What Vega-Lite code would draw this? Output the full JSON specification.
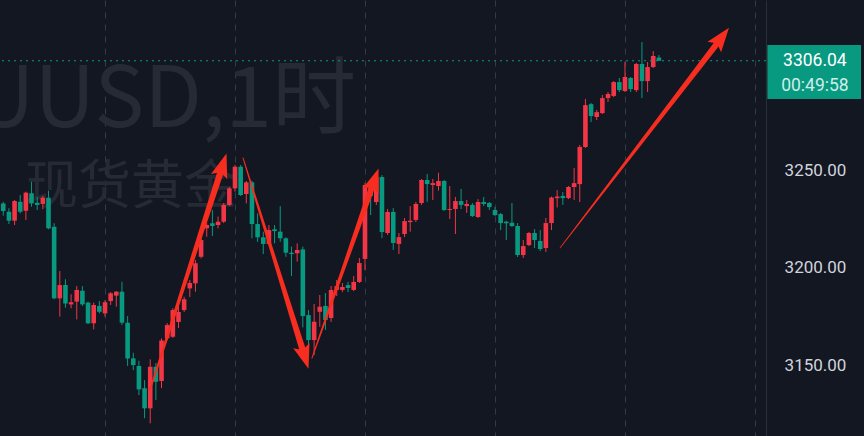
{
  "$schema": "https://vega.github.io/schema/vega-lite/v6.json",
  "width": 766,
  "height": 436,
  "autosize": {"type": "none"},
  "padding": {"left": 0, "top": 0, "right": 98, "bottom": 0},
  "background": "#131722",
  "config": {"view": {"stroke": null}, "scale": {"continuousPadding": 0}},
  "datasets": {
    "candles": [
      {"t":-18,"o":3232.9,"h":3233.7,"l":3226.6,"c":3229.0},
      {"t":-17,"o":3228.6,"h":3230.4,"l":3222.3,"c":3224.0},
      {"t":-16,"o":3224.0,"h":3234.6,"l":3221.8,"c":3234.1},
      {"t":-15,"o":3233.7,"h":3237.2,"l":3227.8,"c":3228.6},
      {"t":-14,"o":3229.1,"h":3238.9,"l":3224.4,"c":3238.4},
      {"t":-13,"o":3238.1,"h":3244.0,"l":3231.2,"c":3232.9},
      {"t":-12,"o":3233.2,"h":3236.3,"l":3229.5,"c":3232.1},
      {"t":-11,"o":3232.6,"h":3236.7,"l":3229.9,"c":3235.8},
      {"t":-10,"o":3235.8,"h":3239.4,"l":3219.6,"c":3220.1},
      {"t":-9,"o":3220.9,"h":3222.7,"l":3183.7,"c":3184.2},
      {"t":-8,"o":3184.2,"h":3198.2,"l":3174.8,"c":3191.0},
      {"t":-7,"o":3191.0,"h":3194.0,"l":3179.4,"c":3181.6},
      {"t":-6,"o":3181.1,"h":3186.3,"l":3179.1,"c":3182.2},
      {"t":-5,"o":3182.5,"h":3190.5,"l":3173.4,"c":3188.5},
      {"t":-4,"o":3188.1,"h":3190.5,"l":3180.3,"c":3181.1},
      {"t":-3,"o":3182.0,"h":3182.5,"l":3171.0,"c":3171.4},
      {"t":-2,"o":3171.4,"h":3182.0,"l":3168.3,"c":3180.8},
      {"t":-1,"o":3180.3,"h":3182.8,"l":3176.5,"c":3177.3},
      {"t":0,"o":3176.5,"h":3183.3,"l":3174.8,"c":3182.2},
      {"t":1,"o":3182.8,"h":3187.4,"l":3180.8,"c":3186.8},
      {"t":2,"o":3185.6,"h":3187.9,"l":3179.9,"c":3187.6},
      {"t":3,"o":3187.6,"h":3192.7,"l":3170.5,"c":3171.7},
      {"t":4,"o":3171.7,"h":3175.1,"l":3149.5,"c":3153.4},
      {"t":5,"o":3153.4,"h":3156.3,"l":3147.4,"c":3150.0},
      {"t":6,"o":3149.5,"h":3152.2,"l":3134.6,"c":3137.5},
      {"t":7,"o":3138.1,"h":3142.3,"l":3122.7,"c":3127.8},
      {"t":8,"o":3127.8,"h":3152.9,"l":3120.1,"c":3149.1},
      {"t":9,"o":3149.1,"h":3151.0,"l":3132.1,"c":3141.4},
      {"t":10,"o":3141.8,"h":3163.7,"l":3138.2,"c":3162.6},
      {"t":11,"o":3163.7,"h":3171.5,"l":3162.8,"c":3170.5},
      {"t":12,"o":3164.5,"h":3179.2,"l":3163.9,"c":3178.2},
      {"t":13,"o":3172.1,"h":3180.8,"l":3169.0,"c":3177.2},
      {"t":14,"o":3178.2,"h":3185.0,"l":3177.2,"c":3183.7},
      {"t":15,"o":3189.3,"h":3193.6,"l":3184.9,"c":3192.1},
      {"t":16,"o":3191.9,"h":3203.8,"l":3187.6,"c":3202.2},
      {"t":17,"o":3205.5,"h":3215.8,"l":3204.7,"c":3214.1},
      {"t":18,"o":3220.1,"h":3222.7,"l":3215.8,"c":3221.8},
      {"t":19,"o":3222.7,"h":3229.5,"l":3216.2,"c":3221.3},
      {"t":20,"o":3221.8,"h":3226.1,"l":3220.1,"c":3223.5},
      {"t":21,"o":3223.5,"h":3233.1,"l":3222.8,"c":3232.1},
      {"t":22,"o":3232.1,"h":3241.3,"l":3231.5,"c":3240.6},
      {"t":23,"o":3240.6,"h":3252.6,"l":3238.9,"c":3251.7},
      {"t":24,"o":3251.7,"h":3252.6,"l":3236.7,"c":3237.2},
      {"t":25,"o":3237.7,"h":3244.4,"l":3232.9,"c":3243.7},
      {"t":26,"o":3243.7,"h":3244.5,"l":3215.0,"c":3222.3},
      {"t":27,"o":3222.3,"h":3227.8,"l":3213.2,"c":3215.5},
      {"t":28,"o":3215.5,"h":3218.4,"l":3206.9,"c":3212.1},
      {"t":29,"o":3212.1,"h":3221.8,"l":3211.5,"c":3219.2},
      {"t":30,"o":3219.6,"h":3221.8,"l":3212.4,"c":3218.7},
      {"t":31,"o":3218.4,"h":3231.5,"l":3213.2,"c":3215.0},
      {"t":32,"o":3215.0,"h":3215.5,"l":3205.5,"c":3207.6},
      {"t":33,"o":3207.6,"h":3210.7,"l":3195.6,"c":3206.9},
      {"t":34,"o":3207.3,"h":3212.4,"l":3203.0,"c":3209.0},
      {"t":35,"o":3209.3,"h":3210.7,"l":3169.3,"c":3175.1},
      {"t":36,"o":3175.6,"h":3178.2,"l":3157.7,"c":3162.8},
      {"t":37,"o":3162.8,"h":3181.3,"l":3155.1,"c":3172.2},
      {"t":38,"o":3177.3,"h":3185.9,"l":3169.6,"c":3179.9},
      {"t":39,"o":3180.3,"h":3186.9,"l":3168.0,"c":3173.1},
      {"t":40,"o":3174.1,"h":3190.5,"l":3172.1,"c":3188.5},
      {"t":41,"o":3188.5,"h":3193.6,"l":3185.4,"c":3190.5},
      {"t":42,"o":3188.5,"h":3192.1,"l":3187.4,"c":3190.0},
      {"t":43,"o":3191.0,"h":3192.6,"l":3187.4,"c":3189.5},
      {"t":44,"o":3188.5,"h":3195.6,"l":3187.9,"c":3192.6},
      {"t":45,"o":3192.6,"h":3204.9,"l":3192.1,"c":3202.3},
      {"t":46,"o":3204.4,"h":3243.3,"l":3198.7,"c":3242.3},
      {"t":47,"o":3242.3,"h":3244.9,"l":3226.9,"c":3236.7},
      {"t":48,"o":3233.6,"h":3247.4,"l":3232.1,"c":3246.4},
      {"t":49,"o":3246.4,"h":3247.4,"l":3215.1,"c":3218.2},
      {"t":50,"o":3217.7,"h":3230.0,"l":3216.7,"c":3228.5},
      {"t":51,"o":3228.5,"h":3230.5,"l":3209.0,"c":3212.6},
      {"t":52,"o":3212.1,"h":3217.7,"l":3206.9,"c":3215.6},
      {"t":53,"o":3217.2,"h":3225.4,"l":3215.6,"c":3223.8},
      {"t":54,"o":3223.3,"h":3231.5,"l":3218.4,"c":3224.0},
      {"t":55,"o":3224.4,"h":3233.6,"l":3223.3,"c":3232.6},
      {"t":56,"o":3233.1,"h":3245.4,"l":3232.1,"c":3244.9},
      {"t":57,"o":3244.9,"h":3248.0,"l":3233.7,"c":3242.8},
      {"t":58,"o":3242.3,"h":3245.4,"l":3234.6,"c":3243.3},
      {"t":59,"o":3241.8,"h":3248.6,"l":3239.4,"c":3244.4},
      {"t":60,"o":3244.4,"h":3244.9,"l":3229.0,"c":3229.5},
      {"t":61,"o":3229.5,"h":3241.8,"l":3224.9,"c":3230.0},
      {"t":62,"o":3230.0,"h":3236.2,"l":3217.2,"c":3234.1},
      {"t":63,"o":3234.1,"h":3240.3,"l":3230.0,"c":3232.1},
      {"t":64,"o":3231.5,"h":3234.6,"l":3228.0,"c":3232.6},
      {"t":65,"o":3232.1,"h":3233.1,"l":3225.9,"c":3226.4},
      {"t":66,"o":3225.9,"h":3235.1,"l":3225.4,"c":3233.6},
      {"t":67,"o":3233.6,"h":3236.2,"l":3231.5,"c":3232.6},
      {"t":68,"o":3233.1,"h":3233.6,"l":3229.5,"c":3231.0},
      {"t":69,"o":3229.5,"h":3231.0,"l":3226.4,"c":3226.9},
      {"t":70,"o":3227.4,"h":3228.0,"l":3219.2,"c":3222.8},
      {"t":71,"o":3223.5,"h":3224.0,"l":3214.1,"c":3222.7},
      {"t":72,"o":3223.0,"h":3233.1,"l":3220.8,"c":3221.3},
      {"t":73,"o":3221.3,"h":3222.8,"l":3205.4,"c":3206.4},
      {"t":74,"o":3206.4,"h":3214.1,"l":3204.9,"c":3211.0},
      {"t":75,"o":3211.5,"h":3218.2,"l":3211.0,"c":3217.7},
      {"t":76,"o":3217.7,"h":3219.7,"l":3210.0,"c":3214.1},
      {"t":77,"o":3213.6,"h":3219.2,"l":3208.5,"c":3209.5},
      {"t":78,"o":3210.0,"h":3225.4,"l":3208.0,"c":3222.8},
      {"t":79,"o":3222.8,"h":3236.4,"l":3219.2,"c":3235.9},
      {"t":80,"o":3235.6,"h":3239.7,"l":3230.8,"c":3236.4},
      {"t":81,"o":3236.7,"h":3238.7,"l":3232.1,"c":3235.6},
      {"t":82,"o":3235.6,"h":3241.8,"l":3235.1,"c":3241.3},
      {"t":83,"o":3241.3,"h":3251.0,"l":3234.6,"c":3243.3},
      {"t":84,"o":3242.8,"h":3262.8,"l":3233.6,"c":3261.8},
      {"t":85,"o":3261.8,"h":3286.4,"l":3261.3,"c":3283.3},
      {"t":86,"o":3283.8,"h":3284.4,"l":3274.6,"c":3277.7},
      {"t":87,"o":3277.2,"h":3280.8,"l":3275.6,"c":3279.7},
      {"t":88,"o":3279.2,"h":3288.5,"l":3278.7,"c":3286.9},
      {"t":89,"o":3286.9,"h":3290.0,"l":3284.9,"c":3289.0},
      {"t":90,"o":3288.0,"h":3295.6,"l":3287.4,"c":3295.1},
      {"t":91,"o":3295.1,"h":3297.2,"l":3290.0,"c":3291.0},
      {"t":92,"o":3290.5,"h":3305.4,"l":3290.0,"c":3297.7},
      {"t":93,"o":3297.2,"h":3297.7,"l":3290.0,"c":3291.5},
      {"t":94,"o":3291.0,"h":3304.9,"l":3290.0,"c":3304.4},
      {"t":95,"o":3304.4,"h":3315.6,"l":3286.9,"c":3295.6},
      {"t":96,"o":3295.6,"h":3305.4,"l":3290.0,"c":3302.8},
      {"t":97,"o":3302.8,"h":3311.0,"l":3302.3,"c":3308.5},
      {"t":98,"o":3307.7,"h":3309.0,"l":3305.9,"c":3306.04}
    ],
    "arrows": [
      {"arrow":1,"t":7.96,"p":3137.2,"w":0.15},
      {"arrow":1,"t":20.75,"p":3251.7,"w":1},
      {"arrow":2,"t":24.42,"p":3256.2,"w":0.05},
      {"arrow":2,"t":35.28,"p":3154.9,"w":1},
      {"arrow":3,"t":36.62,"p":3153.6,"w":0.05},
      {"arrow":3,"t":47.59,"p":3244.1,"w":0.95},
      {"arrow":4,"t":80.5,"p":3210.0,"w":0},
      {"arrow":4,"t":108.92,"p":3317.3,"w":0.95}
    ],
    "heads": [
      {"t":20.75,"p":3251.7,"a":17.8},
      {"t":35.28,"p":3154.9,"a":162.7},
      {"t":47.59,"p":3244.1,"a":19.3},
      {"t":108.92,"p":3317.3,"a":37.5}
    ],
    "wm1": [{"txt":"XAUUSD,1时","t":44.4,"p":3272.0}],
    "wm2": [{"txt":"现货黄金","t":-14.15,"p":3240.8}],
    "tag": [{"label":"3306.04","timer":"00:49:58","price":3306.04}]
  },
  "layer": [
    {
      "data": {"name": "wm1"},
      "mark": {"type":"text","font":"Noto Sans CJK SC","fontSize":84,"align":"right","baseline":"alphabetic","color":"#262a35"},
      "encoding": {
        "x": {"field":"t","type":"quantitative","scale":{"domain":[-18.58,116.95],"nice":false,"zero":false,"padding":0},
              "axis":{"values":[0,23,46,69,92,115],"grid":true,"gridColor":"#363a45","gridDash":[6,6],"gridWidth":1,"labels":false,"ticks":false,"domain":false,"title":null}},
        "y": {"field":"p","type":"quantitative","scale":{"domain":[3113.6,3337.2],"nice":false,"zero":false},
              "axis":{"orient":"right","values":[3150,3200,3250],"format":".2f","grid":false,"ticks":false,"tickSize":0,"labelPadding":49,"labelAlign":"center","labelBaseline":"middle","labelColor":"#d1d4dc","labelFont":"Roboto","labelFontSize":17,"domain":true,"domainColor":"#2a2e39","title":null}},
        "text": {"field":"txt"}
      }
    },
    {
      "data": {"name": "wm2"},
      "mark": {"type":"text","font":"Noto Sans CJK SC","fontSize":53,"align":"left","baseline":"middle","color":"#262a35"},
      "encoding": {
        "x": {"field":"t","type":"quantitative","scale":{"domain":[-18.58,116.95],"nice":false,"zero":false,"padding":0},
              "axis":{"values":[0,23,46,69,92,115],"grid":true,"gridColor":"#363a45","gridDash":[6,6],"gridWidth":1,"labels":false,"ticks":false,"domain":false,"title":null}},
        "y": {"field":"p","type":"quantitative","scale":{"domain":[3113.6,3337.2],"nice":false,"zero":false},
              "axis":{"orient":"right","values":[3150,3200,3250],"format":".2f","grid":false,"ticks":false,"tickSize":0,"labelPadding":49,"labelAlign":"center","labelBaseline":"middle","labelColor":"#d1d4dc","labelFont":"Roboto","labelFontSize":17,"domain":true,"domainColor":"#2a2e39","title":null}},
        "text": {"field":"txt"}
      }
    },
    {
      "data": {"name": "candles"},
      "mark": {"type":"rule","strokeWidth":1},
      "encoding": {
        "x": {"field":"t","type":"quantitative","scale":{"domain":[-18.58,116.95],"nice":false,"zero":false,"padding":0},
              "axis":{"values":[0,23,46,69,92,115],"grid":true,"gridColor":"#363a45","gridDash":[6,6],"gridWidth":1,"labels":false,"ticks":false,"domain":false,"title":null}},
        "y": {"field":"l","type":"quantitative","scale":{"domain":[3113.6,3337.2],"nice":false,"zero":false},
              "axis":{"orient":"right","values":[3150,3200,3250],"format":".2f","grid":false,"ticks":false,"tickSize":0,"labelPadding":49,"labelAlign":"center","labelBaseline":"middle","labelColor":"#d1d4dc","labelFont":"Roboto","labelFontSize":17,"domain":true,"domainColor":"#2a2e39","title":null}},
        "y2": {"field":"h"},
        "color": {"condition":{"test":"datum.c >= datum.o","value":"#f23645"},"value":"#089981"}
      }
    },
    {
      "data": {"name": "candles"},
      "mark": {"type":"bar","width":4.6},
      "encoding": {
        "x": {"field":"t","type":"quantitative","scale":{"domain":[-18.58,116.95],"nice":false,"zero":false,"padding":0},
              "axis":{"values":[0,23,46,69,92,115],"grid":true,"gridColor":"#363a45","gridDash":[6,6],"gridWidth":1,"labels":false,"ticks":false,"domain":false,"title":null}},
        "y": {"field":"o","type":"quantitative","scale":{"domain":[3113.6,3337.2],"nice":false,"zero":false},
              "axis":{"orient":"right","values":[3150,3200,3250],"format":".2f","grid":false,"ticks":false,"tickSize":0,"labelPadding":49,"labelAlign":"center","labelBaseline":"middle","labelColor":"#d1d4dc","labelFont":"Roboto","labelFontSize":17,"domain":true,"domainColor":"#2a2e39","title":null}},
        "y2": {"field":"c"},
        "color": {"condition":{"test":"datum.c >= datum.o","value":"#f23645"},"value":"#089981"}
      }
    },
    {
      "data": {"name": "tag"},
      "mark": {"type":"rule","color":"#089981","strokeDash":[2,4],"strokeWidth":1},
      "encoding": {
        "y": {"field":"price","type":"quantitative","scale":{"domain":[3113.6,3337.2],"nice":false,"zero":false},
              "axis":{"orient":"right","values":[3150,3200,3250],"format":".2f","grid":false,"ticks":false,"tickSize":0,"labelPadding":49,"labelAlign":"center","labelBaseline":"middle","labelColor":"#d1d4dc","labelFont":"Roboto","labelFontSize":17,"domain":true,"domainColor":"#2a2e39","title":null}}
      }
    },
    {
      "data": {"name": "arrows"},
      "mark": {"type":"trail","color":"#f72d1f"},
      "encoding": {
        "x": {"field":"t","type":"quantitative","scale":{"domain":[-18.58,116.95],"nice":false,"zero":false,"padding":0},
              "axis":{"values":[0,23,46,69,92,115],"grid":true,"gridColor":"#363a45","gridDash":[6,6],"gridWidth":1,"labels":false,"ticks":false,"domain":false,"title":null}},
        "y": {"field":"p","type":"quantitative","scale":{"domain":[3113.6,3337.2],"nice":false,"zero":false},
              "axis":{"orient":"right","values":[3150,3200,3250],"format":".2f","grid":false,"ticks":false,"tickSize":0,"labelPadding":49,"labelAlign":"center","labelBaseline":"middle","labelColor":"#d1d4dc","labelFont":"Roboto","labelFontSize":17,"domain":true,"domainColor":"#2a2e39","title":null}},
        "size": {"field":"w","type":"quantitative","scale":{"domain":[0,1],"range":[0.7,6.5]},"legend":null},
        "detail": {"field":"arrow"},
        "order": {"field":"w"}
      }
    },
    {
      "data": {"name": "heads"},
      "mark": {"type":"point","shape":"M0,-1L0.62,0.75L0,0.42L-0.62,0.75Z","size":760,"filled":true,"color":"#f72d1f","opacity":1,"strokeWidth":0},
      "encoding": {
        "x": {"field":"t","type":"quantitative","scale":{"domain":[-18.58,116.95],"nice":false,"zero":false,"padding":0},
              "axis":{"values":[0,23,46,69,92,115],"grid":true,"gridColor":"#363a45","gridDash":[6,6],"gridWidth":1,"labels":false,"ticks":false,"domain":false,"title":null}},
        "y": {"field":"p","type":"quantitative","scale":{"domain":[3113.6,3337.2],"nice":false,"zero":false},
              "axis":{"orient":"right","values":[3150,3200,3250],"format":".2f","grid":false,"ticks":false,"tickSize":0,"labelPadding":49,"labelAlign":"center","labelBaseline":"middle","labelColor":"#d1d4dc","labelFont":"Roboto","labelFontSize":17,"domain":true,"domainColor":"#2a2e39","title":null}},
        "angle": {"field":"a","type":"quantitative","scale":null}
      }
    },
    {
      "data": {"name": "tag"},
      "mark": {"type":"rect","color":"#089981"},
      "encoding": {
        "x": {"datum":117.2,"type":"quantitative","scale":{"domain":[-18.58,116.95],"nice":false,"zero":false,"padding":0},
              "axis":{"values":[0,23,46,69,92,115],"grid":true,"gridColor":"#363a45","gridDash":[6,6],"gridWidth":1,"labels":false,"ticks":false,"domain":false,"title":null}},
        "x2": {"datum":133.76},
        "y": {"datum":3314.1,"type":"quantitative","scale":{"domain":[3113.6,3337.2],"nice":false,"zero":false},
              "axis":{"orient":"right","values":[3150,3200,3250],"format":".2f","grid":false,"ticks":false,"tickSize":0,"labelPadding":49,"labelAlign":"center","labelBaseline":"middle","labelColor":"#d1d4dc","labelFont":"Roboto","labelFontSize":17,"domain":true,"domainColor":"#2a2e39","title":null}},
        "y2": {"datum":3286.4}
      }
    },
    {
      "data": {"name": "tag"},
      "mark": {"type":"text","font":"Roboto","fontSize":17.5,"align":"center","baseline":"middle","color":"#ffffff"},
      "encoding": {
        "x": {"datum":125.6,"type":"quantitative","scale":{"domain":[-18.58,116.95],"nice":false,"zero":false,"padding":0},
              "axis":{"values":[0,23,46,69,92,115],"grid":true,"gridColor":"#363a45","gridDash":[6,6],"gridWidth":1,"labels":false,"ticks":false,"domain":false,"title":null}},
        "y": {"field":"price","type":"quantitative","scale":{"domain":[3113.6,3337.2],"nice":false,"zero":false},
              "axis":{"orient":"right","values":[3150,3200,3250],"format":".2f","grid":false,"ticks":false,"tickSize":0,"labelPadding":49,"labelAlign":"center","labelBaseline":"middle","labelColor":"#d1d4dc","labelFont":"Roboto","labelFontSize":17,"domain":true,"domainColor":"#2a2e39","title":null}},
        "text": {"field":"label"}
      }
    },
    {
      "data": {"name": "tag"},
      "mark": {"type":"text","font":"Roboto","fontSize":17.5,"align":"center","baseline":"middle","color":"#cdeee6"},
      "encoding": {
        "x": {"datum":125.6,"type":"quantitative","scale":{"domain":[-18.58,116.95],"nice":false,"zero":false,"padding":0},
              "axis":{"values":[0,23,46,69,92,115],"grid":true,"gridColor":"#363a45","gridDash":[6,6],"gridWidth":1,"labels":false,"ticks":false,"domain":false,"title":null}},
        "y": {"datum":3293.1,"type":"quantitative","scale":{"domain":[3113.6,3337.2],"nice":false,"zero":false},
              "axis":{"orient":"right","values":[3150,3200,3250],"format":".2f","grid":false,"ticks":false,"tickSize":0,"labelPadding":49,"labelAlign":"center","labelBaseline":"middle","labelColor":"#d1d4dc","labelFont":"Roboto","labelFontSize":17,"domain":true,"domainColor":"#2a2e39","title":null}},
        "text": {"field":"timer"}
      }
    }
  ]
}
